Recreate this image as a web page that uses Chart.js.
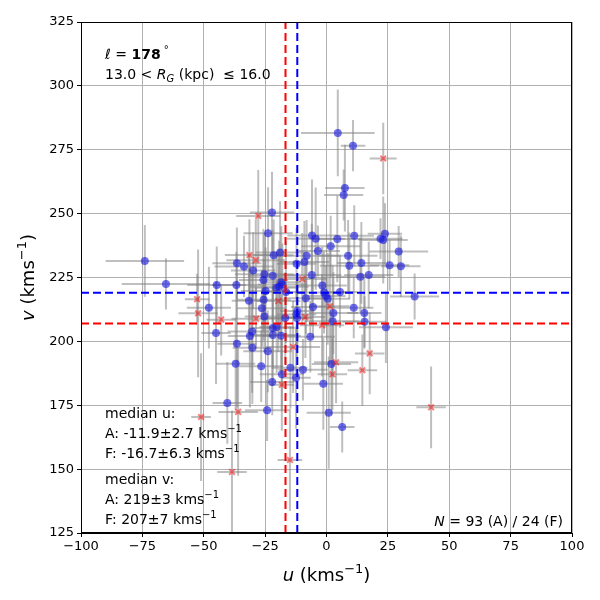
<!DOCTYPE html>
<html>
<head>
<meta charset="utf-8">
<script src="https://cdn.jsdelivr.net/npm/chart.js@4"></script>
<style>
  html, body { margin: 0; padding: 0; background: #fff; }
  #wrap { width: 600px; height: 600px; }
</style>
</head>
<body>
<div id="wrap"><canvas id="c" width="600" height="600"></canvas></div>
<script>
// tick labels
const xTicks = [-100, -75, -50, -25, 0, 25, 50, 75, 100];
const yTicks = [125, 150, 175, 200, 225, 250, 275, 300, 325];

// A sample (blue dots)
const aU = [-74, -65.4, 4.6, 10.8, 7.5, 7, 23.8, 22, 23.1, 29.4,
  -5.9, -4.4, 4.4, 11.3, 1.7, -3.5, -8.1, -9, 8.8, 9.3,
  14.2, 25.7, 30.3, -6, 13.8, 17.2, -36.5, -33.6, -29.9, -44.7,
  -36.7, -31.6, -47.9, -45, -36.5, -30.2, -30.3, -31.2, -22.2, -23.8,
  -18.9, -21.5, -12.2, -25.3, -25.7, -21.9, -18.4, -18, -19.3, -20.4,
  -24.8, -16.5, -25.6, -1.7, -8.4, -1, -0.2, 0.5, 5.5, -5.5,
  2.8, 2.5, 11.1, 15.4, 15.5, -11.9, -12.2, -12, -16.8, -26.3,
  -25.3, -21.9, -20.3, -21.9, -18.5, -6.6, -23.9, -37, -26.6, -14.7,
  -9.6, -18.2, -12.4, -22.1, -1.3, -40.4, -24.2, 0.9, 35.9, 24.2,
  2, 6.4];
const aV = [231.5, 222.5, 281.6, 276.6, 260, 257.3, 242.1, 240.2, 239.7, 235.2,
  241.4, 240.2, 240.1, 241.3, 237.2, 235.4, 233.5, 231.1, 233.5, 229.6,
  230.7, 229.8, 229.4, 226, 225.3, 226, 230.6, 229.3, 227.7, 222.1,
  222.1, 215.9, 213.2, 203.3, 199.1, 197.5, 203.9, 202.1, 250.4, 242.3,
  234.8, 233.7, 230.4, 226.3, 224, 225.7, 223.1, 222.3, 221.4, 221,
  219.7, 219.3, 216.3, 221.9, 216.9, 219.1, 217.8, 216.7, 219.3, 213.5,
  211.1, 207.9, 213.2, 211.1, 207.7, 211.9, 210.5, 209.1, 209.1, 213,
  209.7, 205.2, 205.6, 202.5, 202.2, 201.8, 196.1, 191.2, 190.3, 189.7,
  188.9, 187.1, 185.8, 184.1, 183.4, 175.9, 173, 172.1, 217.6, 205.5,
  191.1, 166.5];
const aUerr = [16, 18, 15, 5, 8, 8, 7, 9, 10, 12,
  10, 12, 10, 8, 12, 9, 14, 10, 12, 12,
  10, 8, 8, 12, 10, 10, 10, 12, 9, 12,
  10, 7, 9, 6, 8, 8, 10, 9, 9, 10,
  10, 8, 8, 12, 10, 10, 8, 10, 12, 9,
  10, 8, 11, 10, 9, 12, 8, 9, 7, 9,
  10, 11, 8, 7, 9, 7, 8, 6, 9, 10,
  8, 9, 7, 10, 8, 10, 10, 8, 9, 7,
  10, 9, 6, 9, 8, 6, 9, 9, 10, 11,
  8, 5];
const aVerr = [14, 10, 17, 10, 17, 10, 12, 8, 17, 10,
  22, 20, 17, 12, 12, 10, 14, 16, 14, 13,
  16, 10, 12, 20, 14, 13, 14, 12, 15, 15,
  13, 18, 16, 20, 25, 22, 24, 28, 16, 18,
  20, 14, 14, 16, 20, 18, 22, 16, 18, 14,
  17, 20, 16, 15, 14, 16, 12, 18, 14, 12,
  16, 22, 12, 14, 10, 14, 12, 16, 18, 15,
  14, 16, 18, 20, 15, 14, 16, 18, 14, 16,
  12, 14, 20, 13, 18, 16, 12, 22, 9, 14,
  20, 10];

// F sample (red crosses)
const fU = [23.1, -27.8, -31.4, -28.8, -52.7, -52.3, -42.9, -28.7, -9.9, -19.6,
  1.4, -8.6, -1.8, -13.6, 17.6, -18.2, -36, -51.1, -14.9, -38.5,
  3.9, 2.4, 14.6, 42.6];
const fV = [271.6, 249.1, 233.8, 231.8, 216.5, 211, 208.5, 208.9, 224.4, 215.8,
  213.7, 209.5, 206.3, 197.8, 195.3, 183, 172.4, 170.4, 153.6, 148.9,
  191.8, 187.1, 188.7, 174.2];
const fUerr = [5.5, 9, 10, 12, 5, 8, 6, 10, 10, 9,
  8, 8, 9, 11, 6, 5, 8, 4, 5, 6,
  9, 6, 6, 6];
const fVerr = [14, 18, 14, 16, 10, 25, 14, 12, 18, 20,
  22, 16, 20, 18, 16, 18, 25, 25, 20, 24,
  16, 14, 14, 16];

// medians [A, F]
const medianU = [-11.9, -16.7];
const medianV = [219, 207];

const FONT = 'DejaVu Sans';

const toPts = (us, vs) => us.map((u, i) => ({ x: u, y: vs[i] }));

const errorBars = {
  id: 'errorBars',
  beforeDatasetsDraw(chart) {
    const { ctx, chartArea: ca, scales: { x, y } } = chart;
    ctx.save();
    ctx.beginPath();
    ctx.rect(ca.left, ca.top, ca.right - ca.left, ca.bottom - ca.top);
    ctx.clip();
    ctx.strokeStyle = 'rgba(128,128,128,0.5)';
    ctx.lineWidth = 2;
    const draw = (us, vs, ue, ve) => {
      us.forEach((u, i) => {
        const px = x.getPixelForValue(u), py = y.getPixelForValue(vs[i]);
        ctx.beginPath();
        ctx.moveTo(x.getPixelForValue(u - ue[i]), py);
        ctx.lineTo(x.getPixelForValue(u + ue[i]), py);
        ctx.moveTo(px, y.getPixelForValue(vs[i] - ve[i]));
        ctx.lineTo(px, y.getPixelForValue(vs[i] + ve[i]));
        ctx.stroke();
      });
    };
    draw(aU, aV, aUerr, aVerr);
    draw(fU, fV, fUerr, fVerr);
    ctx.restore();
  }
};

// draw text made of runs with different fonts / offsets
function runs(ctx, x, y, parts, align) {
  let w = 0;
  parts.forEach(p => { ctx.font = p.f; w += ctx.measureText(p.t).width; });
  let cx = align === 'right' ? x - w : align === 'center' ? x - w / 2 : x;
  ctx.textAlign = 'left';
  ctx.textBaseline = 'alphabetic';
  parts.forEach(p => {
    ctx.font = p.f;
    ctx.fillText(p.t, cx, y + (p.dy || 0));
    cx += ctx.measureText(p.t).width;
  });
}

const decor = {
  id: 'decor',
  afterDraw(chart) {
    const { ctx, chartArea: ca } = chart;
    ctx.save();
    ctx.strokeStyle = '#000';
    ctx.lineWidth = 1;
    ctx.strokeRect(ca.left + 0.5, ca.top + 0.5, ca.right - ca.left - 1, ca.bottom - ca.top - 1);
    ctx.fillStyle = '#000';
    const n = '14px ' + FONT, s = '10px ' + FONT, it = 'italic 14px ' + FONT;
    runs(ctx, 105, 59, [
      { t: 'ℓ', f: it }, { t: ' = ', f: n }, { t: '178', f: 'bold 14px ' + FONT },
      { t: ' °', f: s, dy: -6 }]);
    runs(ctx, 105, 79, [
      { t: '13.0 < ', f: n }, { t: 'R', f: it }, { t: 'G', f: 'italic 10px ' + FONT, dy: 3 },
      { t: ' (kpc)  ≤ 16.0', f: n }]);
    const kms = (txt, yy) => runs(ctx, 105, yy, [{ t: txt + ' kms', f: n }, { t: '−1', f: s, dy: -6 }]);
    runs(ctx, 105, 418, [{ t: 'median u:', f: n }]);
    kms('A: -11.9±2.7', 438);
    kms('F: -16.7±6.3', 458);
    runs(ctx, 105, 484, [{ t: 'median v:', f: n }]);
    kms('A: 219±3', 504);
    kms('F: 207±7', 524);
    runs(ctx, 563, 526, [{ t: 'N', f: it }, { t: ' = 93 (A) / 24 (F)', f: n }], 'right');

    // axis titles
    const tn = '18px ' + FONT, ti = 'italic 18px ' + FONT, ts = '13px ' + FONT;
    runs(ctx, (ca.left + ca.right) / 2, 581, [
      { t: 'u', f: ti }, { t: ' (kms', f: tn }, { t: '−1', f: ts, dy: -8 }, { t: ')', f: tn }], 'center');
    ctx.translate(34, (ca.top + ca.bottom) / 2);
    ctx.rotate(-Math.PI / 2);
    runs(ctx, 0, 0, [
      { t: 'v', f: ti }, { t: ' (kms', f: tn }, { t: '−1', f: ts, dy: -8 }, { t: ')', f: tn }], 'center');
    ctx.restore();
  }
};

const vline = (u, color) => ({
  data: [{ x: u, y: yTicks[0] }, { x: u, y: yTicks[yTicks.length - 1] }],
  showLine: true, borderColor: color, borderWidth: 2, borderDash: [8, 4],
  pointRadius: 0, order: 0
});
const hline = (v, color) => ({
  data: [{ x: xTicks[0], y: v }, { x: xTicks[xTicks.length - 1], y: v }],
  showLine: true, borderColor: color, borderWidth: 2, borderDash: [8, 4],
  pointRadius: 0, order: 0
});

new Chart(document.getElementById('c'), {
  type: 'scatter',
  data: {
    datasets: [
      vline(medianU[0], '#0000ff'),
      vline(medianU[1], '#ff0000'),
      hline(medianV[0], '#0000ff'),
      hline(medianV[1], '#ff0000'),
      {
        data: toPts(fU, fV), pointStyle: 'crossRot', pointRadius: 4,
        borderColor: 'rgba(255,0,0,0.5)', borderWidth: 2, order: 1
      },
      {
        data: toPts(aU, aV), pointStyle: 'circle', pointRadius: 4,
        backgroundColor: 'rgba(20,20,225,0.6)', borderWidth: 0, order: 2
      }
    ]
  },
  options: {
    responsive: false,
    animation: false,
    layout: { padding: { top: 22, right: 28, left: 0, bottom: 0 } },
    plugins: { legend: { display: false }, tooltip: { enabled: false } },
    scales: {
      x: {
        min: xTicks[0], max: xTicks[xTicks.length - 1],
        afterBuildTicks: s => { s.ticks = xTicks.map(v => ({ value: v })); },
        afterFit: s => { s.height = 67; },
        grid: { color: '#b0b0b0', tickColor: '#000', tickLength: 4 },
        border: { color: '#000' },
        ticks: { color: '#000', font: { family: FONT, size: 13 }, padding: 2, maxRotation: 0,
          callback: v => String(v).replace('-', '−') }
      },
      y: {
        min: yTicks[0], max: yTicks[yTicks.length - 1],
        afterBuildTicks: s => { s.ticks = yTicks.map(v => ({ value: v })); },
        afterFit: s => { s.width = 81; },
        grid: { color: '#b0b0b0', tickColor: '#000', tickLength: 4 },
        border: { color: '#000' },
        ticks: { color: '#000', font: { family: FONT, size: 13 }, padding: 3 }
      }
    }
  },
  plugins: [errorBars, decor]
});
</script>
</body>
</html>
